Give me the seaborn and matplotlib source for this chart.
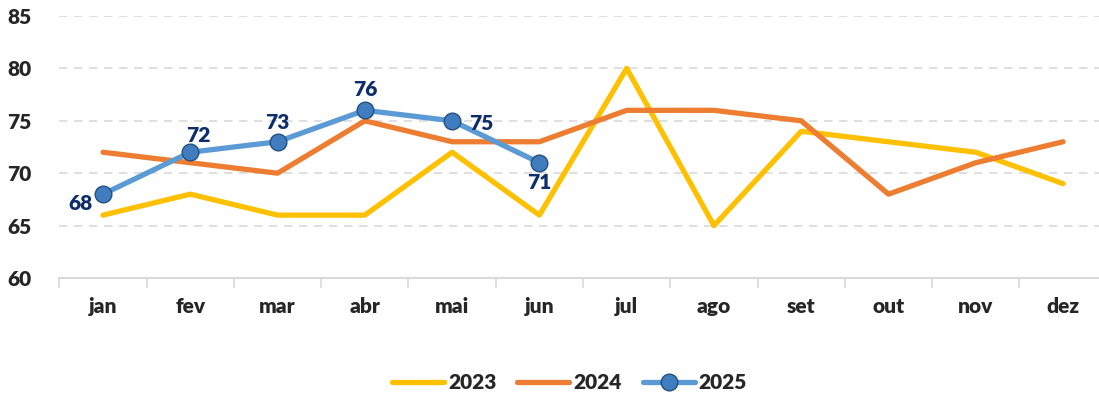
import pandas as pd
import matplotlib.pyplot as plt
import seaborn as sns

months = ["jan", "fev", "mar", "abr", "mai", "jun", "jul", "ago", "set", "out", "nov", "dez"]
vals_2023 = [66, 68, 66, 66, 72, 66, 80, 65, 74, 73, 72, 69]
vals_2024 = [72, 71, 70, 75, 73, 73, 76, 76, 75, 68, 71, 73]
vals_2025 = [68, 72, 73, 76, 75, 71]

colors = {"2023": "#FFC000", "2024": "#ED7D31", "2025": "#5B9BD5"}

sns.set_style("white")
plt.rcParams['font.family'] = ['Lato', 'DejaVu Sans']
plt.rcParams['font.weight'] = 'heavy'

fig = plt.figure(figsize=(10.99, 4.0), dpi=100)
ax = fig.add_axes([0.054, 0.305, 0.953, 0.655])

rows = []
for yr, vals in [("2023", vals_2023), ("2024", vals_2024), ("2025", vals_2025)]:
    for i, v in enumerate(vals):
        rows.append({"ano": yr, "pos": i, "valor": v})
df = pd.DataFrame(rows)

for yr in ["2023", "2024"]:
    sns.lineplot(data=df[df.ano == yr], x="pos", y="valor", color=colors[yr],
                 linewidth=3.8, ax=ax, label=yr)
sns.lineplot(data=df[df.ano == "2025"], x="pos", y="valor", color=colors["2025"],
             linewidth=3.8, ax=ax, label="2025", marker="o", markersize=12,
             markerfacecolor="#3F7DBE", markeredgecolor="#24507F", markeredgewidth=1.0)

# label offsets (points) for 2025 values
offsets = [(-16, -7), (6, 12), (0, 14), (0, 15), (21, -2), (0, -14)]
for i, v in enumerate(vals_2025):
    dx, dy = offsets[i]
    ax.annotate(str(v), (i, v), xytext=(dx, dy), textcoords="offset points",
                ha="center", va="center", fontsize=15, fontweight="heavy", color="#0D2D6B")

ax.set_xlim(-0.5, 11.5)
ax.set_ylim(60, 85)
ax.set_yticks([60, 65, 70, 75, 80, 85])
ax.set_xticks(range(12))
ax.set_xticklabels(months)
ax.set_xticks([i - 0.5 for i in range(13)], minor=True)
ax.tick_params(axis="x", which="both", bottom=True)
ax.tick_params(axis="x", which="major", length=0, pad=14, labelsize=15)
ax.tick_params(axis="x", which="minor", length=7, width=1.2, color="#D9D9D9", direction="out")
ax.tick_params(axis="y", length=0, labelsize=15, pad=20)
for lab in ax.get_xticklabels() + ax.get_yticklabels():
    lab.set_fontweight("heavy")
ax.set_xlabel("")
ax.set_ylabel("")

for y in [65, 70, 75, 80, 85]:
    ax.axhline(y, color="#D9D9D9", linestyle=(0, (5, 4)), linewidth=1.2, zorder=0)

for s in ["top", "right", "left"]:
    ax.spines[s].set_visible(False)
ax.spines["bottom"].set_color("#D9D9D9")
ax.spines["bottom"].set_linewidth(1.5)

ax.legend(loc="center", bbox_to_anchor=(0.487, -0.40),
          ncol=3, frameon=False, handlelength=2.5, columnspacing=1.0,
          handletextpad=0.2, prop={"weight": "heavy", "size": 15})

fig.savefig("out.png", dpi=100)
